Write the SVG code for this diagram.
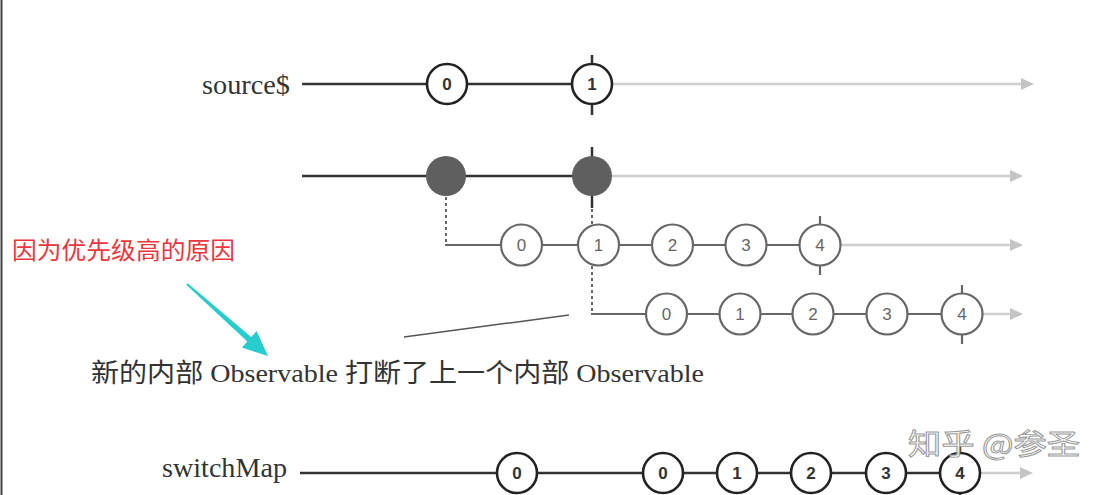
<svg xmlns="http://www.w3.org/2000/svg" width="1111" height="495" viewBox="0 0 1111 495">
<defs>
<style>
.lbl{font-family:"Liberation Serif","Noto Sans CJK SC",serif;fill:#333}
.dk{stroke:#333;stroke-width:2.5;fill:none}
.gr{stroke:#666;stroke-width:2.2;fill:none}
.lt{stroke:#cfcfcf;stroke-width:2.5;fill:none}
.dash{stroke:#666;stroke-width:2;stroke-dasharray:3 3;fill:none}
.cb{fill:#fff;stroke:#222;stroke-width:2.6}
.cg{fill:#fff;stroke:#666;stroke-width:2.2}
.cf{fill:#5f5f5f;stroke:none}
.nb{font-family:"Liberation Sans",Arial,sans-serif;font-size:17px;font-weight:bold;fill:#333;text-anchor:middle}
.ng{font-family:"Liberation Sans",Arial,sans-serif;font-size:17px;fill:#666;text-anchor:middle}
.tk{stroke:#333;stroke-width:2.5}
.tkg{stroke:#666;stroke-width:2.2}
.ah{fill:#c4c4c4}
</style>
</defs>
<rect width="1111" height="495" fill="#fff"/>
<line x1="1.5" y1="0" x2="1.5" y2="495" stroke="#444" stroke-width="2"/>

<g id="connectors">
<line class="dk" x1="302" y1="84" x2="592" y2="84"/>
<line class="lt" x1="592" y1="84" x2="1024" y2="84"/>
<polygon class="ah" points="1034,84 1021,78 1021,90"/>
<line class="dk" x1="302" y1="176" x2="592" y2="176"/>
<line class="lt" x1="592" y1="176" x2="1013" y2="176"/>
<polygon class="ah" points="1023,176 1010,170 1010,182"/>
<line class="dash" x1="446" y1="197" x2="446" y2="244"/>
<line class="gr" x1="445" y1="245" x2="820" y2="245"/>
<line class="lt" x1="820" y1="245" x2="1012" y2="245"/>
<polygon class="ah" points="1023,245 1010,239 1010,251"/>
<line class="dash" x1="592" y1="197" x2="592" y2="225"/>
<line class="dash" x1="592" y1="266" x2="592" y2="313"/>
<line class="gr" x1="591" y1="314" x2="962" y2="314"/>
<line class="lt" x1="962" y1="314" x2="1012" y2="314"/>
<polygon class="ah" points="1023,314 1010,308 1010,320"/>
<line class="dk" x1="300" y1="473" x2="960" y2="473"/>
<line class="lt" x1="960" y1="473" x2="1022" y2="473"/>
<polygon class="ah" points="1033,473 1020,467 1020,479"/>
<line x1="404" y1="337" x2="569" y2="315" stroke="#555" stroke-width="1.5"/>
</g>

<g id="label-source">
<text class="lbl" x="290" y="94" font-size="28" text-anchor="end" textLength="88" lengthAdjust="spacingAndGlyphs">source$</text>
</g>
<g id="label-switchmap">
<text class="lbl" x="287" y="477" font-size="28" text-anchor="end" textLength="125" lengthAdjust="spacingAndGlyphs">switchMap</text>
</g>

<g id="row1-nodes">
<circle class="cb" cx="447" cy="84" r="20"/>
<text class="nb" x="447" y="90">0</text>
<line class="tk" x1="592" y1="55" x2="592" y2="115"/>
<circle class="cb" cx="592" cy="84" r="20"/>
<text class="nb" x="592" y="90">1</text>
</g>

<g id="row2-nodes">
<line class="tk" x1="592" y1="147" x2="592" y2="208"/>
<circle class="cf" cx="446" cy="176" r="20"/>
<circle class="cf" cx="592" cy="176" r="20"/>
</g>

<g id="row3-nodes">
<circle class="cg" cx="521.5" cy="245" r="20.5"/>
<text class="ng" x="521.5" y="251">0</text>
<circle class="cg" cx="598.5" cy="245" r="20.5"/>
<text class="ng" x="598.5" y="251">1</text>
<circle class="cg" cx="672.5" cy="245" r="20.5"/>
<text class="ng" x="672.5" y="251">2</text>
<circle class="cg" cx="746" cy="245" r="20.5"/>
<text class="ng" x="746" y="251">3</text>
<line class="tkg" x1="820" y1="216" x2="820" y2="275"/>
<circle class="cg" cx="820" cy="245" r="20.5"/>
<text class="ng" x="820" y="251">4</text>
</g>

<g id="row4-nodes">
<circle class="cg" cx="666.5" cy="314" r="20.5"/>
<text class="ng" x="666.5" y="320">0</text>
<circle class="cg" cx="740" cy="314" r="20.5"/>
<text class="ng" x="740" y="320">1</text>
<circle class="cg" cx="813" cy="314" r="20.5"/>
<text class="ng" x="813" y="320">2</text>
<circle class="cg" cx="887" cy="314" r="20.5"/>
<text class="ng" x="887" y="320">3</text>
<line class="tkg" x1="962" y1="285" x2="962" y2="344"/>
<circle class="cg" cx="962" cy="314" r="20.5"/>
<text class="ng" x="962" y="320">4</text>
</g>

<g id="switchmap-nodes">
<circle class="cb" cx="517" cy="473" r="20"/>
<text class="nb" x="517" y="479">0</text>
<circle class="cb" cx="663" cy="473" r="20"/>
<text class="nb" x="663" y="479">0</text>
<circle class="cb" cx="737" cy="473" r="20"/>
<text class="nb" x="737" y="479">1</text>
<circle class="cb" cx="811" cy="473" r="20"/>
<text class="nb" x="811" y="479">2</text>
<circle class="cb" cx="886" cy="473" r="20"/>
<text class="nb" x="886" y="479">3</text>
<line class="tk" x1="960" y1="444" x2="960" y2="502"/>
<circle class="cb" cx="960" cy="473" r="20"/>
<text class="nb" x="960" y="479">4</text>
</g>

<g id="annotation-red">
<text x="12" y="259" font-family="'Noto Sans CJK SC',sans-serif" font-size="24" fill="#e8383d" textLength="223" lengthAdjust="spacingAndGlyphs">因为优先级高的原因</text>
</g>
<g id="annotation-arrow">
<polygon fill="#27cccc" points="186.3,284.8 187.7,283.2 251.2,337.1 256.6,331.0 268,356 241.9,347.6 247.3,341.5"/>
</g>
<g id="annotation-text">
<text class="lbl" x="91" y="382" font-size="26" textLength="613" lengthAdjust="spacingAndGlyphs">新的内部 Observable 打断了上一个内部 Observable</text>
</g>
<g id="watermark">
<text x="908" y="455" font-family="'Noto Sans CJK SC',sans-serif" font-size="29" fill="#fff" fill-opacity="0.85" stroke="#9a9a9a" stroke-width="1" textLength="172" lengthAdjust="spacingAndGlyphs">知乎 @参圣</text>
</g>
</svg>
